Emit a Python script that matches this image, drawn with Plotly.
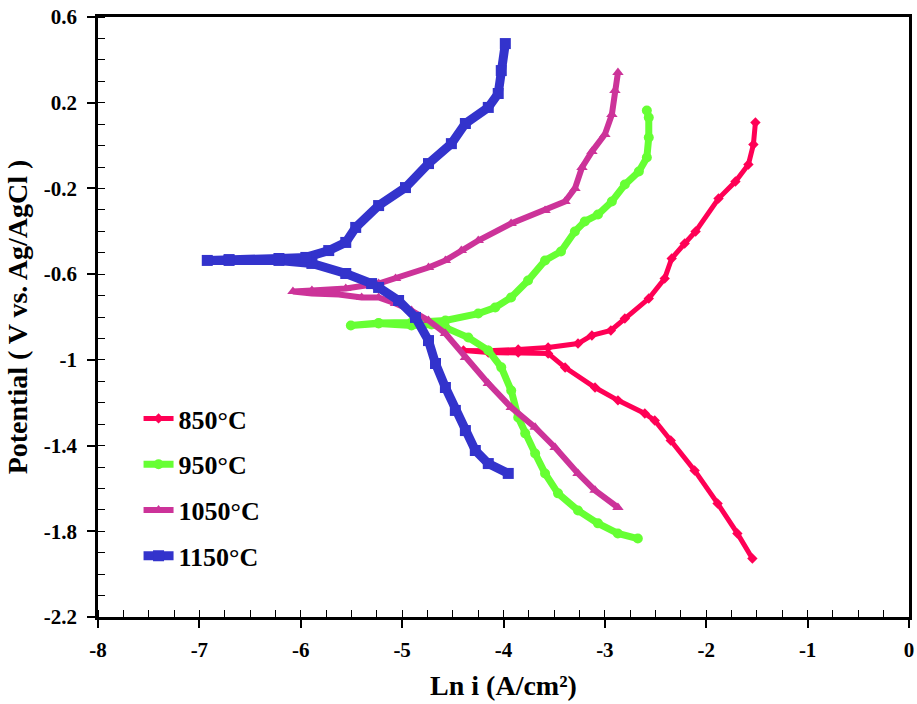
import plotly.graph_objects as go

# Tafel polarization curves: Ln i (A/cm²) vs potential (V vs. Ag/AgCl)
x_850 = [-1.545, -1.693, -1.888, -2.115, -2.350, -2.508, -2.606, -2.871, -3.097, -3.392,
         -3.560, -3.855, -4.150, -4.395, -4.150, -3.855, -3.560, -3.265, -3.128, -2.941,
         -2.803, -2.567, -2.410, -2.341, -2.213, -2.105, -1.879, -1.712, -1.584, -1.535, -1.515]
y_850 = [-1.927, -1.810, -1.670, -1.516, -1.376, -1.283, -1.250, -1.189, -1.129, -1.036,
         -0.970, -0.966, -0.966, -0.956, -0.957, -0.952, -0.942, -0.924, -0.886, -0.863,
         -0.807, -0.714, -0.620, -0.527, -0.457, -0.401, -0.247, -0.168, -0.088, 0.005, 0.108]

x_950 = [-2.675, -2.872, -3.068, -3.265, -3.462, -3.590, -3.688, -3.786, -3.855, -3.924,
         -4.022, -4.150, -4.347, -4.573, -4.710, -4.907, -5.232, -5.506, -5.232, -4.907,
         -4.573, -4.249, -4.082, -3.925, -3.758, -3.590, -3.433, -3.296, -3.198, -3.068,
         -2.931, -2.803, -2.665, -2.586, -2.567, -2.567, -2.586]
y_950 = [-1.834, -1.810, -1.763, -1.703, -1.623, -1.530, -1.437, -1.343, -1.269, -1.143,
         -1.035, -0.956, -0.896, -0.849, -0.835, -0.840, -0.830, -0.840, -0.828, -0.826,
         -0.816, -0.784, -0.756, -0.709, -0.630, -0.536, -0.494, -0.401, -0.354, -0.322,
         -0.261, -0.182, -0.121, -0.056, 0.038, 0.131, 0.164]

x_1050 = [-2.871, -3.097, -3.265, -3.491, -3.688, -3.924, -4.150, -4.376, -4.573, -4.740,
          -4.907, -5.065, -5.232, -5.399, -5.625, -5.890, -6.077, -5.890, -5.556, -5.232,
          -5.065, -4.740, -4.573, -4.416, -4.249, -3.925, -3.590, -3.393, -3.295, -3.226,
          -3.128, -3.000, -2.931, -2.901, -2.871]
y_1050 = [-1.689, -1.609, -1.530, -1.409, -1.315, -1.222, -1.110, -0.989, -0.877, -0.816,
          -0.770, -0.737, -0.709, -0.709, -0.695, -0.690, -0.681, -0.676, -0.667, -0.644,
          -0.620, -0.569, -0.536, -0.490, -0.443, -0.364, -0.303, -0.261, -0.200, -0.102,
          -0.028, 0.052, 0.145, 0.257, 0.341]

x_1150 = [-3.953, -4.150, -4.278, -4.376, -4.475, -4.573, -4.671, -4.740, -4.868, -5.035,
          -5.232, -5.301, -5.556, -5.890, -6.215, -6.707, -6.922, -6.707, -6.215, -5.950,
          -5.724, -5.556, -5.458, -5.232, -4.967, -4.740, -4.514, -4.376, -4.150, -4.052,
          -4.022, -3.982]
y_1150 = [-1.530, -1.484, -1.423, -1.330, -1.236, -1.129, -1.017, -0.910, -0.802, -0.723,
          -0.662, -0.644, -0.597, -0.550, -0.536, -0.536, -0.536, -0.532, -0.527, -0.522,
          -0.490, -0.452, -0.382, -0.280, -0.196, -0.084, 0.009, 0.103, 0.178, 0.243,
          0.350, 0.476]

# Axis ticks, labelled with plain hyphen minus signs
x_ticks = [-8, -7, -6, -5, -4, -3, -2, -1, 0]
x_tick_labels = ["-8", "-7", "-6", "-5", "-4", "-3", "-2", "-1", "0"]
y_ticks = [-2.2, -1.8, -1.4, -1.0, -0.6, -0.2, 0.2, 0.6]
y_tick_labels = ["-2.2", "-1.8", "-1.4", "-1", "-0.6", "-0.2", "0.2", "0.6"]

series = [
    ("850°C", x_850, y_850, "#FF0055", "diamond", 8, 5),
    ("950°C", x_950, y_950, "#66FF33", "circle", 10, 7),
    ("1050°C", x_1050, y_1050, "#CC3399", "triangle-up", 10, 6),
    ("1150°C", x_1150, y_1150, "#3333CC", "square", 11, 9),
]

fig = go.Figure()
for i, (name, xs, ys, color, symbol, msize, lw) in enumerate(series):
    fig.add_trace(go.Scatter(
        x=xs, y=ys, name=name, mode="lines+markers",
        legendgroup=f"g{i}",
        line=dict(color=color, width=lw),
        marker=dict(color=color, symbol=symbol, size=msize),
    ))

serif = "Liberation Serif, Times New Roman, serif"

fig.update_layout(
    width=917, height=704,
    margin=dict(l=98, r=3, t=17, b=87),
    paper_bgcolor="white", plot_bgcolor="white",
    font=dict(family=serif, color="black"),
    showlegend=True,
    legend=dict(
        x=0.05, y=0.37, xanchor="left", yanchor="top",
        bgcolor="rgba(0,0,0,0)",
        font=dict(family=serif, size=26, color="black", weight="bold"),
        tracegroupgap=9, traceorder="grouped", itemwidth=30,
    ),
    xaxis=dict(
        range=[-8, 0], tickvals=x_ticks, ticktext=x_tick_labels,
        showgrid=False, zeroline=False,
        showline=True, linecolor="black", linewidth=2.5, mirror=True,
        ticks="outside", ticklen=8, tickwidth=1.5, tickcolor="black",
        minor=dict(dtick=0.25, tick0=-8, ticks="inside", ticklen=7, tickwidth=1.2,
                   tickcolor="black", showgrid=False),
        tickfont=dict(family=serif, size=21, color="black", weight="bold"),
        ticklabelstandoff=4,
        title=dict(text="Ln i (A/cm²)", standoff=15,
                   font=dict(family=serif, size=28, color="black", weight="bold")),
    ),
    yaxis=dict(
        range=[-2.2, 0.6], tickvals=y_ticks, ticktext=y_tick_labels,
        showgrid=False, zeroline=False,
        showline=True, linecolor="black", linewidth=2.5, mirror=True,
        ticks="outside", ticklen=8, tickwidth=1.5, tickcolor="black",
        minor=dict(dtick=0.1, tick0=-2.2, ticks="inside", ticklen=7, tickwidth=1.2,
                   tickcolor="black", showgrid=False),
        tickfont=dict(family=serif, size=21, color="black", weight="bold"),
        ticklabelstandoff=6,
        title=dict(text="Potential ( V vs. Ag/AgCl )", standoff=8,
                   font=dict(family=serif, size=28, color="black", weight="bold")),
    ),
)

fig.write_html("out.html")
